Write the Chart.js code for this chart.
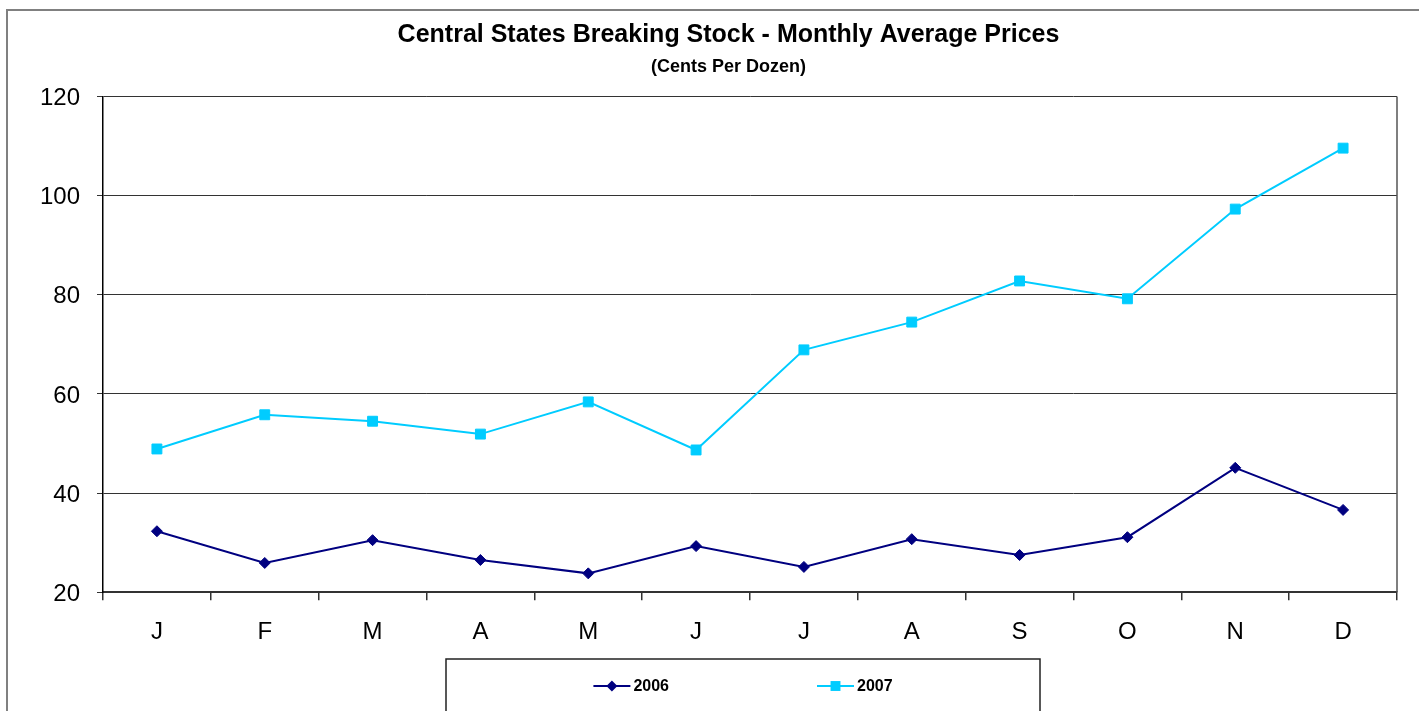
<!DOCTYPE html>
<html>
<head>
<meta charset="utf-8">
<title>Central States Breaking Stock</title>
<script src="https://cdn.jsdelivr.net/npm/chart.js@4.4.1/dist/chart.umd.min.js"></script>
<style>
    html, body { margin: 0; padding: 0; background: #fff; }
    #wrap { width: 1419px; height: 711px; }
</style>
</head>
<body>
<div id="wrap"><canvas id="priceChart" width="1419" height="711"></canvas></div>
<script>
// Monthly average prices, cents per dozen
const months = ['J', 'F', 'M', 'A', 'M', 'J', 'J', 'A', 'S', 'O', 'N', 'D'];
const prices2006 = [32.3, 25.9, 30.5, 26.5, 23.8, 29.3, 25.1, 30.7, 27.5, 31.1, 45.1, 36.6];
const prices2007 = [48.9, 55.8, 54.5, 51.9, 58.4, 48.7, 68.9, 74.5, 82.8, 79.2, 97.3, 109.6];
const yTicks = [20, 40, 60, 80, 100, 120];

const FONT = "Arial, 'Liberation Sans', sans-serif";
const NAVY = '#000080';
const SKY = '#00CCFF';

// outer frame + right edge of the plot
const framePlugin = {
    id: 'frame',
    afterLayout(chart) {
        // titles sit a bit right of the plot centre in the original
        chart.boxes.forEach(b => {
            if (b.options && typeof b.options.text === 'string') {
                b.left += 15;
                b.right += 15;
            }
        });
    },
    beforeDraw(chart) {
        const ctx = chart.ctx;
        ctx.save();
        ctx.strokeStyle = '#808080';
        ctx.lineWidth = 2;
        ctx.beginPath();
        ctx.moveTo(7, chart.height + 5);
        ctx.lineTo(7, 10);
        ctx.lineTo(chart.width + 5, 10);
        ctx.stroke();
        ctx.restore();
    },
    afterDatasetsDraw(chart) {
        const a = chart.chartArea;
        const ctx = chart.ctx;
        ctx.save();
        ctx.strokeStyle = '#555';
        ctx.lineWidth = 1.5;
        ctx.beginPath();
        ctx.moveTo(a.right, a.top);
        ctx.lineTo(a.right, a.bottom);
        ctx.stroke();
        ctx.restore();
    }
};

// Excel-style legend: boxed, line + marker samples
function drawMarker(ctx, style, x, y, r) {
    ctx.beginPath();
    if (style === 'rectRot') {
        ctx.moveTo(x, y - r);
        ctx.lineTo(x + r, y);
        ctx.lineTo(x, y + r);
        ctx.lineTo(x - r, y);
        ctx.closePath();
    } else {
        const s = r * Math.SQRT1_2;
        ctx.rect(x - s, y - s, 2 * s, 2 * s);
    }
    ctx.fill();
}

const boxLegendPlugin = {
    id: 'boxLegend',
    afterDraw(chart) {
        const ctx = chart.ctx;
        const boxLeft = 446, boxRight = 1040, boxTop = 659;
        const cy = 686;
        const sampleW = 37, gap = 148;
        ctx.save();
        ctx.strokeStyle = '#222';
        ctx.lineWidth = 1.5;
        ctx.strokeRect(boxLeft, boxTop, boxRight - boxLeft, chart.height);

        ctx.font = 'bold 16px ' + FONT;
        ctx.textBaseline = 'middle';
        const items = chart.data.datasets.map(ds => ({
            ds: ds,
            w: sampleW + 3 + ctx.measureText(ds.label).width
        }));
        const total = items.reduce((s, it) => s + it.w, 0) + gap * (items.length - 1);
        let x = (boxLeft + boxRight) / 2 - total / 2;
        items.forEach(it => {
            ctx.strokeStyle = it.ds.borderColor;
            ctx.lineWidth = 2;
            ctx.beginPath();
            ctx.moveTo(x, cy);
            ctx.lineTo(x + sampleW, cy);
            ctx.stroke();
            ctx.fillStyle = it.ds.borderColor;
            drawMarker(ctx, it.ds.pointStyle, x + sampleW / 2, cy, it.ds.pointRadius);
            ctx.fillStyle = '#000';
            ctx.fillText(it.ds.label, x + sampleW + 3, cy + 1);
            x += it.w + gap;
        });
        ctx.restore();
    }
};

document.addEventListener('DOMContentLoaded', function() {
    const ctx = document.getElementById('priceChart').getContext('2d');
    new Chart(ctx, {
        type: 'line',
        data: {
            labels: months,
            datasets: [{
                label: '2006',
                data: prices2006,
                borderColor: NAVY,
                backgroundColor: NAVY,
                pointBackgroundColor: NAVY,
                pointBorderColor: NAVY,
                pointStyle: 'rectRot',
                pointRadius: 5.5,
                pointBorderWidth: 1,
                borderWidth: 2,
                tension: 0
            }, {
                label: '2007',
                data: prices2007,
                borderColor: SKY,
                backgroundColor: SKY,
                pointBackgroundColor: SKY,
                pointBorderColor: SKY,
                pointStyle: 'rect',
                pointRadius: 7,
                pointBorderWidth: 1,
                borderWidth: 2,
                tension: 0
            }]
        },
        options: {
            responsive: false,
            animation: false,
            layout: {
                padding: { left: 30, right: 22, top: 20, bottom: 46 }
            },
            scales: {
                x: {
                    type: 'category',
                    offset: true,
                    grid: {
                        offset: true,
                        drawOnChartArea: false,
                        tickLength: 8,
                        color: '#333',
                        lineWidth: 1.5
                    },
                    border: { color: '#333', width: 2 },
                    ticks: {
                        color: '#000',
                        padding: 18,
                        maxRotation: 0,
                        autoSkip: false,
                        font: { family: FONT, size: 24 }
                    }
                },
                y: {
                    min: 20,
                    max: 120,
                    afterBuildTicks: function(scale) {
                        scale.ticks = yTicks.map(v => ({ value: v }));
                    },
                    afterFit: function(scale) {
                        scale.width = 73;
                    },
                    grid: {
                        color: '#333',
                        lineWidth: 1,
                        tickLength: 6
                    },
                    border: { color: '#000', width: 1.5 },
                    ticks: {
                        color: '#000',
                        padding: 17,
                        labelOffset: 2,
                        font: { family: FONT, size: 24 }
                    }
                }
            },
            plugins: {
                legend: { display: false },
                tooltip: { enabled: false },
                title: {
                    display: true,
                    text: 'Central States Breaking Stock - Monthly Average Prices',
                    color: '#000',
                    font: { family: FONT, size: 25, weight: 'bold' },
                    padding: { top: 0, bottom: 6 }
                },
                subtitle: {
                    display: true,
                    text: '(Cents Per Dozen)',
                    color: '#000',
                    font: { family: FONT, size: 18, weight: 'bold' },
                    padding: { top: 0, bottom: 19 }
                }
            }
        },
        plugins: [framePlugin, boxLegendPlugin]
    });
});
</script>
</body>
</html>
